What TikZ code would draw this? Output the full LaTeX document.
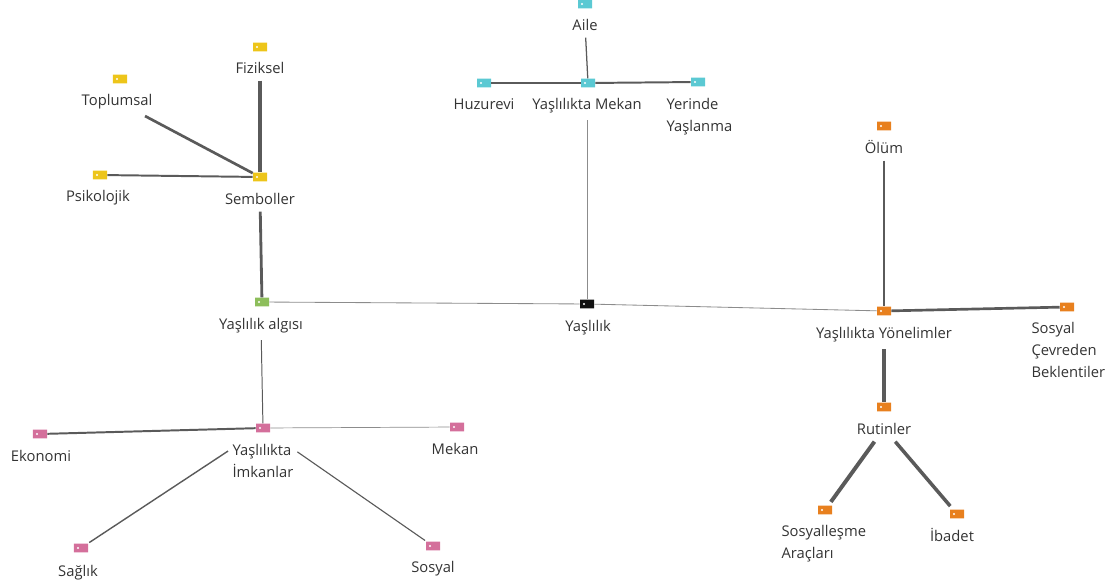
\documentclass[tikz,border=0pt]{standalone}
\usepackage{fontspec}
\setmainfont{Open Sans}
\usepackage{xcolor}
\usetikzlibrary{positioning,shapes.misc}

\definecolor{tagyellow}{HTML}{EDC51A}
\definecolor{tagcyan}{HTML}{5BC9D3}
\definecolor{taggreen}{HTML}{8DBE5B}
\definecolor{tagblack}{HTML}{111111}
\definecolor{tagorange}{HTML}{E8801E}
\definecolor{tagpink}{HTML}{D46F9B}
\definecolor{linkgray}{HTML}{5A5A5A}
\definecolor{lightgray}{HTML}{8C8C8C}
\definecolor{labeltext}{HTML}{333333}

\tikzset{
  tagnode/.style={chamfered rectangle, chamfered rectangle corners={north west,south west},
    chamfered rectangle xsep=1.2pt, fill=#1, draw=none, inner sep=0pt,
    minimum width=0.35cm, minimum height=0.22cm,
    path picture={\fill[white] ([xshift=0.1cm]path picture bounding box.west) circle (0.028cm);}},
  lbl/.style={anchor=base, text=labeltext, font=\fontsize{10.5}{15.6}\selectfont, outer sep=2pt},
  lbll/.style={lbl, anchor=base west, align=left},
  link/.style={draw=linkgray, line width=#1},
  thinlink/.style={draw=lightgray, line width=#1}
}

\begin{document}
\begin{tikzpicture}[x=0.025cm, y=-0.025cm]
      \useasboundingbox (0,0) rectangle (1113,585);

      % Define the nodes of the Mekan group
      \node[tagnode=tagcyan] (aile) at (585,4) {};
      \node[lbl] (aile-l) at (585,30) {Aile};
      \node[tagnode=tagcyan] (ym) at (588,83) {};
      \node[lbl] (ym-l) at (587,109) {Yaşlılıkta Mekan};
      \node[tagnode=tagcyan] (huz) at (484,83) {};
      \node[lbl] (huz-l) at (484,109) {Huzurevi};
      \node[tagnode=tagcyan] (yer) at (698,82) {};
      \node[lbll] (yer-l) at (659,131) {Yerinde\\Yaşlanma};

      % Define the nodes of the Semboller group
      \node[tagnode=tagyellow] (fiz) at (260,47) {};
      \node[lbl] (fiz-l) at (260,73) {Fiziksel};
      \node[tagnode=tagyellow] (top) at (120,79) {};
      \node[lbl] (top-l) at (117,105) {Toplumsal};
      \node[tagnode=tagyellow] (psi) at (100,175) {};
      \node[lbl] (psi-l) at (98,201) {Psikolojik};
      \node[tagnode=tagyellow] (semb) at (260,177) {};
      \node[lbl] (semb-l) at (260,204) {Semboller};

      % Define the central nodes
      \node[tagnode=taggreen] (alg) at (262,302) {};
      \node[lbl] (alg-l) at (261,329) {Yaşlılık algısı};
      \node[tagnode=tagblack] (yas) at (587,304) {};
      \node[lbl] (yas-l) at (588,331) {Yaşlılık};

      % Define the nodes of the Yonelimler group
      \node[tagnode=tagorange] (yon) at (884,311) {};
      \node[lbl] (yon-l) at (884,338) {Yaşlılıkta Yönelimler};
      \node[tagnode=tagorange] (olum) at (884,126) {};
      \node[lbl] (olum-l) at (884,153) {Ölüm};
      \node[tagnode=tagorange] (sce) at (1067,307) {};
      \node[lbll] (sce-l) at (1024,377) {Sosyal\\Çevreden\\Beklentiler};
      \node[tagnode=tagorange] (rut) at (884,407) {};
      \node[lbl] (rut-l) at (884,434) {Rutinler};
      \node[tagnode=tagorange] (sa) at (825,510) {};
      \node[lbll] (sa-l) at (774,558) {Sosyalleşme\\Araçları};
      \node[tagnode=tagorange] (iba) at (957,514) {};
      \node[lbl] (iba-l) at (952,541) {İbadet};

      % Define the nodes of the Imkanlar group
      \node[tagnode=tagpink] (imk) at (263,428) {};
      \node[lbll] (imk-l) at (225,477) {Yaşlılıkta\\İmkanlar};
      \node[tagnode=tagpink] (eko) at (40,434) {};
      \node[lbl] (eko-l) at (41,461) {Ekonomi};
      \node[tagnode=tagpink] (mek) at (457,427) {};
      \node[lbl] (mek-l) at (455,454) {Mekan};
      \node[tagnode=tagpink] (sag) at (81,548) {};
      \node[lbl] (sag-l) at (78,576) {Sağlık};
      \node[tagnode=tagpink] (sos) at (433,546) {};
      \node[lbl] (sos-l) at (433,572) {Sosyal};

      % Draw the links
      \draw[link=0.9pt] (aile-l) -- (ym);
      \draw[link=1.9pt] (huz) -- (ym);
      \draw[link=1.4pt] (ym) -- (yer);
      \draw[thinlink=0.6pt] (ym-l) -- (yas);

      \draw[link=3.5pt] (fiz-l) -- (semb);
      \draw[link=1.9pt] (top-l) -- (semb);
      \draw[link=1.4pt] (psi) -- (semb);
      \draw[link=2pt] (semb-l) -- (alg);

      \draw[thinlink=0.6pt] (alg) -- (yas);
      \draw[thinlink=0.6pt] (yas) -- (yon);

      \draw[link=1pt] (olum-l) -- (yon);
      \draw[link=1.9pt] (yon) -- (sce);
      \draw[link=3.5pt] (yon-l) -- (rut);
      \draw[link=2.8pt, shorten >=3pt] (rut-l) -- (sa);
      \draw[link=2.5pt, shorten >=3pt] (rut-l) -- (iba);

      \draw[link=0.7pt] (alg-l) -- (imk);
      \draw[link=1.4pt] (imk) -- (eko);
      \draw[thinlink=0.5pt] (imk) -- (mek);
      \draw[link=1pt, shorten >=0.84cm, shorten <=1pt] (sag) -- (imk);
      \draw[link=0.8pt, shorten >=0.84cm, shorten <=1pt] (sos) -- (imk);
\end{tikzpicture}
\end{document}
